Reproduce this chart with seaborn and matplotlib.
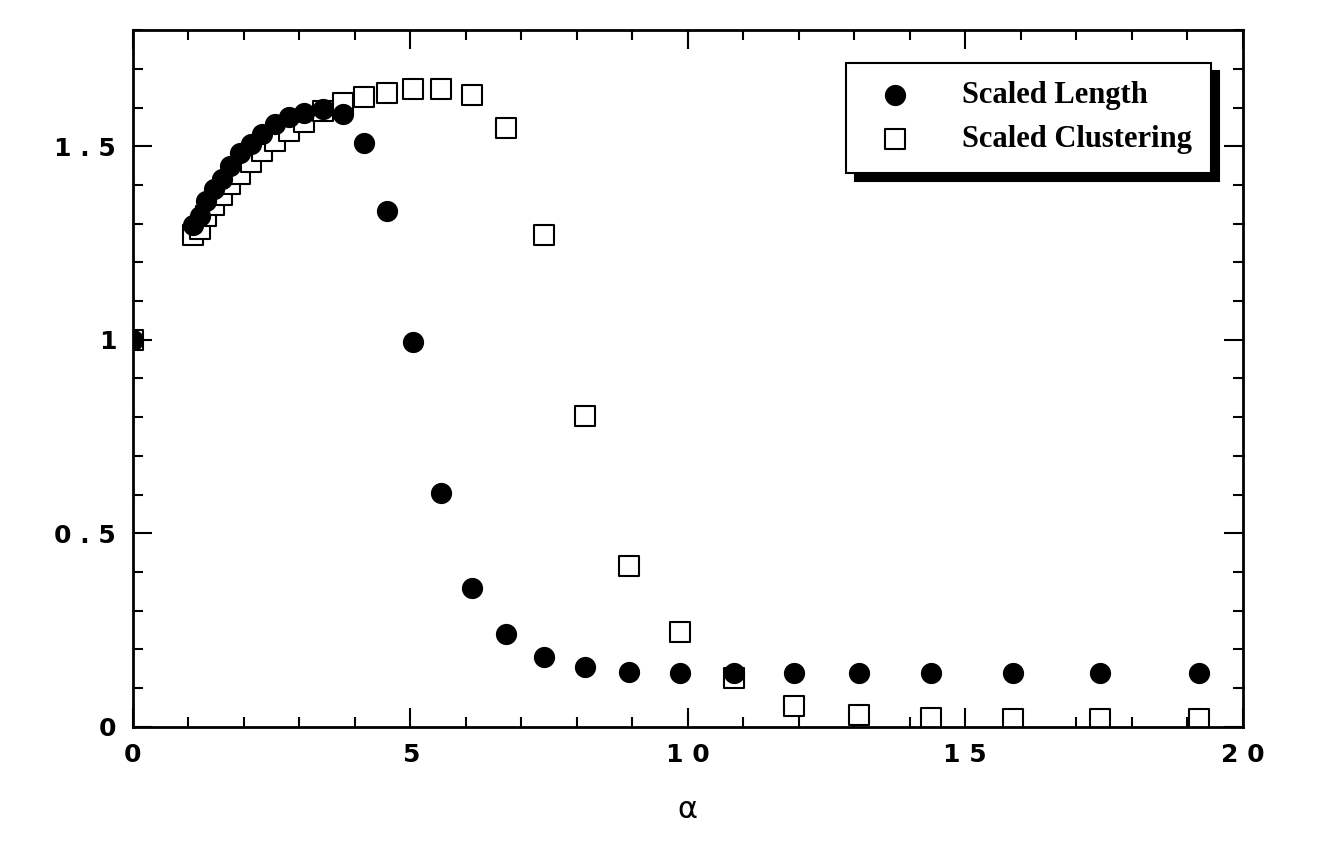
import matplotlib
matplotlib.use("Agg")
import matplotlib.pyplot as plt
import seaborn as sns
import pandas as pd
from matplotlib.ticker import MultipleLocator, FixedLocator

# --- Data --------------------------------------------------------------------
alpha = [0.0, 1.085, 1.21, 1.32, 1.46, 1.61, 1.75, 1.93, 2.12, 2.33, 2.57, 2.82,
         3.09, 3.42, 3.78, 4.16, 4.58, 5.05, 5.55, 6.11, 6.73, 7.41, 8.14,
         8.95, 9.86, 10.83, 11.92, 13.09, 14.39, 15.86, 17.43, 19.22]
scaled_length = [1.0, 1.297, 1.320, 1.359, 1.390, 1.416, 1.450, 1.483, 1.506,
                 1.532, 1.558, 1.576, 1.587, 1.597, 1.584, 1.509, 1.333, 0.995,
                 0.605, 0.359, 0.240, 0.181, 0.155, 0.142, 0.140, 0.140, 0.140,
                 0.139, 0.139, 0.139, 0.139, 0.139]
scaled_clustering = [1.0, 1.271, 1.287, 1.320, 1.349, 1.375, 1.403, 1.429, 1.460,
                     1.488, 1.514, 1.540, 1.563, 1.592, 1.612, 1.628, 1.638, 1.649,
                     1.649, 1.633, 1.548, 1.271, 0.804, 0.416, 0.245, 0.127, 0.054,
                     0.031, 0.023, 0.021, 0.021, 0.021]
x_ticks = [0, 5, 10, 15, 20]
x_labels = ["0", "5", "1 0", "1 5", "2 0"]
y_ticks = [0, 0.5, 1, 1.5]
y_labels = ["0", "0 . 5", "1", "1 . 5"]

df = pd.DataFrame({"alpha": alpha, "Scaled Length": scaled_length,
                   "Scaled Clustering": scaled_clustering})

sns.set_style("ticks")
plt.rcParams["font.family"] = ["DejaVu Sans"]
plt.rcParams["text.color"] = "black"

fig, ax = plt.subplots(figsize=(13.29, 8.60), dpi=100)
fig.subplots_adjust(left=0.1, right=0.935, top=0.965, bottom=0.155)

sns.scatterplot(data=df, x="alpha", y="Scaled Clustering", marker="s", s=200,
                facecolor="white", edgecolor="black", linewidth=1.5,
                label="Scaled Clustering", ax=ax, zorder=2)
sns.scatterplot(data=df, x="alpha", y="Scaled Length", marker="o", s=200,
                color="black", edgecolor="black", label="Scaled Length",
                ax=ax, zorder=3)

ax.set_xlim(0, 20)
ax.set_ylim(0, 1.80)
ax.xaxis.set_major_locator(FixedLocator(x_ticks))
ax.xaxis.set_minor_locator(MultipleLocator(1))
ax.yaxis.set_major_locator(FixedLocator(y_ticks))
ax.yaxis.set_minor_locator(MultipleLocator(0.1))
ax.set_xticklabels(x_labels, fontweight="bold", color="black")
ax.set_yticklabels(y_labels, fontweight="bold", color="black")
ax.tick_params(which="both", direction="in", top=True, right=True, width=1.5,
               colors="black")
ax.tick_params(which="major", length=14, labelsize=18, pad=12)
ax.tick_params(which="minor", length=7)
for sp in ax.spines.values():
    sp.set_linewidth(2)
    sp.set_color("black")

ax.set_xlabel("α", fontsize=22, labelpad=20, color="black")
ax.set_ylabel("")

h, l = ax.get_legend_handles_labels()
leg = ax.legend(h[::-1], l[::-1], loc="upper right", frameon=True,
                shadow={"color": "black", "alpha": 1, "ox": 6, "oy": -6},
                fancybox=False, labelcolor="black",
                prop={"family": "Liberation Serif", "weight": "bold", "size": 22},
                borderpad=0.6, handletextpad=1.2, bbox_to_anchor=(0.985, 0.975))
leg.get_frame().set_edgecolor("black")
leg.get_frame().set_linewidth(1.5)
leg.get_frame().set_alpha(1)

fig.savefig("out.png", dpi=100)
